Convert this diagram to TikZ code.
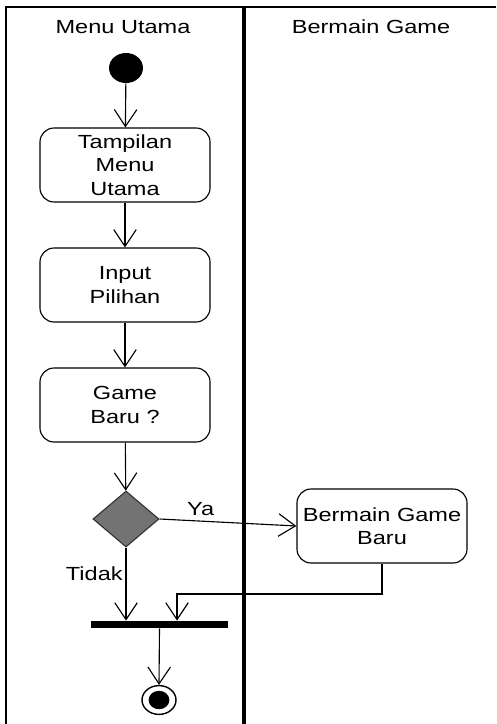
\documentclass[tikz,border=0pt]{standalone}
\usepackage{fontspec}
\setmainfont{Liberation Sans}[FakeStretch=1.24]
\usetikzlibrary{arrows.meta,positioning,shapes.geometric}

\tikzset{
  actbox/.style={draw, rounded corners=10pt, line width=0.8pt, minimum width=4.25cm,
    minimum height=1.85cm, inner sep=0pt, align=center,
    font=\fontsize{13.5}{16.7}\selectfont},
  flow/.style={draw, line width=0.8pt, -{Straight Barb[length=12pt,width=16pt,line width=0.8pt]}},
  lanetitle/.style={font=\fontsize{13.5}{16.7}\selectfont},
}

\begin{document}
\begin{tikzpicture}[x=0.025cm, y=-0.025cm]
\useasboundingbox (0,0) rectangle (496,724);

% Swimlanes
\draw[line width=1.2pt] (6,724) -- (6,7) -- (496,7);
\draw[line width=2.2pt] (244,7) -- (244,724);
\node[lanetitle] (laneMenu) at (123,27) {Menu Utama};
\node[lanetitle] (laneGame) at (371,27) {Bermain Game};

% Start
\node[ellipse, fill=black, minimum width=0.85cm, minimum height=0.75cm, inner sep=0pt] (start) at (126,68) {};

% Activities
\node[actbox] (tampil) at (125,165) {Tampilan\\Menu\\Utama};
\node[actbox] (input) at (125,285) {Input\\Pilihan};
\node[actbox] (gamebaru) at (125,405) {Game\\Baru ?};
\node[diamond, fill=black!55, draw=black!80, line width=0.8pt, minimum width=1.65cm,
  minimum height=1.4cm, inner sep=0pt] (pilih) at (126,519) {};
\node[actbox] (bermain) at (382,526) {Bermain Game\\Baru};

% Join bar
\node[rectangle, fill=black, minimum width=3.425cm, minimum height=0.18cm, inner sep=0pt] (bar) at (159.5,624.5) {};

% End
\node[ellipse, draw, line width=1pt, minimum width=0.85cm, minimum height=0.72cm, inner sep=0pt] (akhir) at (159,700) {};
\node[ellipse, fill=black, minimum width=0.52cm, minimum height=0.46cm, inner sep=0pt] (akhirIn) at (159,700) {};

% Flows
\draw[flow] (start) -- (tampil);
\draw[flow] (tampil) -- (input);
\draw[flow] (input) -- (gamebaru);
\draw[flow] (gamebaru) -- (pilih);
\draw[flow] (pilih.east) -- node[above, pos=0.3, lanetitle] (ya) {Ya} (bermain.west);
\draw[flow] (pilih.south) -- node[left, pos=0.36, lanetitle, inner sep=2pt] (tidak) {Tidak} (pilih.south |- bar.north);
\coordinate (belok) at (177,594);
\draw[flow] (bermain.south) -- (bermain.south |- belok) -- (belok) -- (belok |- bar.north);
\draw[flow] (bar.south) -- (akhir.north);

\end{tikzpicture}
\end{document}
